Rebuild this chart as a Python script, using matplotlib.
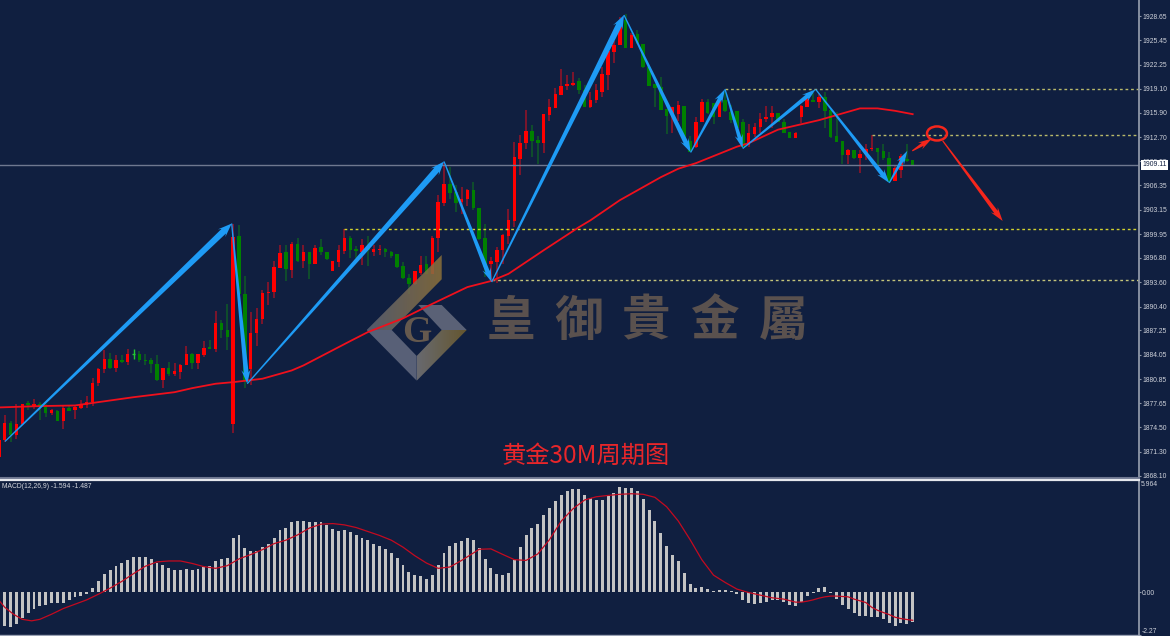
import numpy as np
import matplotlib
matplotlib.use('Agg')
import matplotlib.pyplot as plt
from matplotlib.patches import Polygon, Ellipse
from matplotlib.transforms import Affine2D, IdentityTransform
from matplotlib.colors import to_rgb

plt.rcParams['font.family'] = ['Liberation Sans', 'DejaVu Sans']

# candles, first one is cut by the left edge
bars = np.arange(-1, 156)
highs = [1872.9,
    1876.07,1875.32,1877.51,1877.6,1877.91,1878.22,1877.82,1877.6,1876.94,1876.81,
    1877.25,1877.38,1877.38,1878.04,1878.61,1880.99,1882.3,1884.72,1884.28,1884.06,
    1884.06,1884.76,1884.76,1884.54,1884.1,1883.66,1884.06,1882.3,1883.14,1883.01,
    1882.87,1885.2,1884.28,1884.1,1885.82,1886.04,1889.82,1888.59,1890.78,1901.24,
    1901.11,1894.38,1889.68,1890.25,1892.63,1893.64,1896.36,1898.47,1898.47,1898.91,
    1899.44,1898.47,1897.55,1898.47,1899.26,1897.55,1896.37,1898.47,1900.67,1899.75,
    1898.34,1899.26,1899.66,1898.47,1898.47,1898.12,1897.73,1897.38,1896.28,1894.74,
    1895.05,1897.03,1897.03,1899.66,1905.06,1909.24,1908.71,1906.38,1906.16,1905.94,
    1906.82,1903.44,1901.24,1896.94,1898.25,1900.01,1903.31,1912.09,1912.97,1916.26,
    1914.24,1912.84,1915.69,1917.67,1919.12,1921.67,1920.88,1921.32,1920.44,1919.56,
    1918.68,1919.69,1921.97,1924.04,1925.36,1928.56,1928.87,1926.37,1926.81,1924.96,
    1921.97,1919.69,1920.57,1916.39,1916.61,1917.45,1916.83,1912.84,1915.3,1917.67,
    1917.67,1917.14,1917.58,1918.9,1917.0,1916.2,1915.04,1914.42,1914.51,1915.91,
    1916.84,1916.79,1915.83,1915.04,1913.41,1913.41,1916.93,1918.02,1918.46,1918.55,
    1918.68,1916.49,1916.05,1912.22,1911.08,1910.99,1910.99,1911.74,1912.97,1911.21,
    1911.74,1910.78,1908.89,1910.47,1911.74,1909.68]
body_tops = [1872.8,
    1875.05,1875.05,1874.88,1877.6,1877.65,1877.56,1877.51,1877.25,1876.72,1876.59,
    1877.08,1877.08,1877.16,1877.51,1877.78,1880.33,1882.17,1883.45,1883.45,1883.31,
    1883.31,1884.19,1884.15,1884.19,1883.36,1883.31,1882.87,1882.26,1882.26,1881.86,
    1882.65,1884.1,1884.1,1884.1,1884.98,1885.03,1888.28,1888.28,1887.27,1899.57,
    1899.66,1892.1,1886.92,1888.72,1892.23,1892.32,1895.61,1897.42,1897.55,1898.69,
    1898.69,1897.55,1897.55,1898.12,1898.21,1897.55,1896.37,1897.82,1899.48,1899.48,
    1897.95,1898.47,1898.39,1897.95,1898.04,1898.04,1897.6,1897.29,1895.71,1894.21,
    1895.05,1895.93,1895.97,1899.48,1904.14,1906.51,1906.51,1905.5,1904.54,1905.77,
    1905.77,1903.44,1899.44,1896.37,1897.82,1899.88,1901.77,1910.03,1911.87,1913.5,
    1913.5,1912.31,1915.69,1916.66,1918.33,1919.43,1919.69,1919.78,1920.13,1918.9,
    1917.58,1918.9,1921.01,1924.04,1924.83,1927.68,1928.12,1926.15,1926.24,1924.96,
    1921.97,1919.69,1919.34,1916.39,1916.61,1916.92,1916.83,1912.18,1914.68,1917.32,
    1917.32,1917.14,1917.58,1917.58,1916.0,1916.09,1914.73,1913.19,1914.07,1915.12,
    1915.3,1915.83,1915.83,1914.73,1913.37,1913.19,1916.79,1917.72,1917.58,1918.02,
    1918.02,1916.27,1912.88,1912.22,1910.99,1910.99,1910.47,1911.13,1911.26,1911.21,
    1910.86,1909.98,1908.58,1910.2,1909.81,1909.68]
body_bottoms = [1870.6,
    1872.77,1873.43,1873.52,1874.88,1877.38,1877.25,1877.16,1876.37,1876.42,1875.36,
    1875.36,1876.68,1876.72,1877.08,1877.38,1877.78,1880.28,1882.13,1882.3,1882.3,
    1883.09,1883.09,1884.06,1883.36,1883.27,1882.87,1880.68,1880.77,1881.51,1881.56,
    1881.82,1882.65,1882.96,1882.96,1884.02,1884.81,1884.81,1887.27,1886.34,1874.88,
    1892.1,1880.68,1882.13,1886.87,1888.72,1892.14,1892.28,1895.53,1895.31,1895.26,
    1896.36,1896.37,1895.97,1895.97,1897.55,1896.63,1895.05,1896.32,1897.73,1897.82,
    1897.68,1897.6,1897.82,1897.6,1897.86,1897.6,1897.03,1895.62,1894.17,1893.42,
    1893.33,1894.87,1894.65,1894.65,1899.44,1904.01,1905.33,1904.01,1904.14,1904.54,
    1903.39,1899.26,1895.62,1896.01,1896.28,1897.82,1899.66,1901.68,1909.81,1911.87,
    1912.22,1911.87,1911.91,1915.6,1916.57,1918.28,1919.38,1919.56,1918.9,1916.66,
    1916.66,1917.54,1918.68,1920.92,1923.95,1924.83,1924.48,1924.48,1925.05,1921.89,
    1919.47,1919.16,1916.26,1915.47,1915.38,1915.78,1912.31,1910.77,1911.39,1914.64,
    1915.82,1915.3,1915.3,1916.18,1915.0,1913.85,1911.43,1911.65,1913.1,1914.07,
    1915.04,1915.3,1914.73,1913.28,1912.62,1912.62,1915.3,1916.66,1917.36,1917.36,
    1916.18,1912.75,1912.09,1910.34,1910.38,1909.98,1909.98,1910.47,1911.08,1910.78,
    1909.9,1906.82,1906.91,1908.36,1909.59,1908.97]
lows = [1869.5,
    1872.55,1872.55,1872.99,1874.75,1876.72,1876.9,1875.41,1875.85,1876.07,1875.32,
    1874.26,1876.64,1875.54,1876.94,1877.03,1877.34,1879.93,1881.64,1882.22,1881.78,
    1883.01,1882.65,1883.45,1883.09,1882.65,1881.69,1880.63,1879.67,1881.25,1881.25,
    1880.85,1882.65,1882.22,1882.22,1883.75,1884.76,1884.41,1886.26,1884.63,1873.74,
    1891.2,1879.67,1880.11,1885.2,1888.06,1890.56,1891.48,1895.48,1893.81,1894.16,
    1896.32,1895.44,1894.0,1895.97,1897.16,1896.59,1895.05,1895.62,1897.38,1896.85,
    1896.85,1895.84,1895.71,1897.11,1897.2,1896.94,1896.85,1895.53,1894.08,1892.1,
    1893.2,1894.52,1894.65,1894.65,1897.6,1903.66,1904.62,1902.87,1902.65,1903.66,
    1903.17,1899.22,1894.3,1894.08,1893.51,1896.06,1898.7,1900.89,1907.7,1911.08,
    1910.11,1909.15,1910.64,1914.81,1916.57,1918.24,1918.9,1919.43,1918.42,1916.61,
    1916.57,1917.19,1918.02,1918.9,1922.5,1924.83,1924.39,1924.43,1924.96,1921.75,
    1919.43,1916.7,1916.26,1913.1,1913.19,1914.81,1912.22,1910.73,1911.34,1914.64,
    1915.78,1914.42,1915.3,1916.04,1914.6,1913.8,1911.35,1911.43,1912.66,1913.28,
    1914.73,1913.85,1914.64,1913.19,1912.53,1912.58,1914.51,1916.62,1917.32,1916.49,
    1913.85,1912.62,1912.0,1909.15,1909.11,1909.77,1907.92,1909.68,1910.86,1909.02,
    1909.68,1906.82,1906.87,1907.39,1909.46,1908.93]
green_bars = [1,4,6,7,9,11,18,20,22,23,24,25,26,28,32,35,37,38,40,41,48,50,52,54,55,
    59,60,62,65,66,67,68,69,72,76,77,80,81,82,90,91,98,99,106,108,109,110,111,112,113,
    116,117,120,121,123,124,125,126,132,133,134,138,140,141,142,143,145,149,150,151,154,155]
doji_bars = [22]

# moving average read at some bars
ma_bars = [-1,6,12,16,22,29,32,36,39,44,49,51,59,62,68,73,79,83,86,92,98,100,105,112,115,118,
    125,127,132,139,146,149,152,155]
ma_values = [1877.12,1877.3,1877.38,1877.82,1878.47,1879.13,1879.66,1880.24,1880.45,1880.9,
    1881.99,1882.65,1885.86,1887.04,1888.85,1890.76,1892.97,1893.76,1894.71,1897.81,1900.84,
    1901.76,1904.4,1907.43,1908.55,1909.28,1911.45,1911.91,1913.69,1914.94,1916.49,1916.49,
    1916.17,1915.73]

# zigzag pivots and the red forecast arrows
zigzag_bars = [0.05,38.75,41.41,75.0,83.13,105.72,117.1,122.96,126.0,138.44,151.0,154.08]
zigzag_prices = [1872.64,1901.33,1880.24,1909.5,1893.63,1928.78,1910.69,1919.02,1911.21,1919.0,1906.68,1910.9]
forecast_bars = [(154.93,158.3),(160.13,170.36)]
forecast_prices = [(1910.9,1912.53),(1912.22,1901.67)]

# dotted levels: start bar, price
level_starts = [122.96,148.0,58.0,83.13]
level_prices = [1919.04,1913.0,1900.67,1893.95]
level_colors = ['#b9b96a','#b9b96a','#d2d22e','#c4c47a']
bid_line = 1909.05

price_ticks = [1928.65,1925.45,1922.25,1919.10,1915.90,1912.70,1909.55,1906.35,1903.15,1899.95,
    1896.80,1893.60,1890.40,1887.25,1884.05,1880.85,1877.65,1874.50,1871.30,1868.10]

# MACD histogram, bars 0 to 155
macd_hist = [-1.79,-1.83,-1.68,-1.35,-1.12,-0.89,-0.73,-0.66,-0.57,-0.60,-0.55,-0.41,-0.28,-0.23,-0.11,
    0.21,0.57,0.96,1.15,1.38,1.54,1.68,1.86,1.86,1.86,1.77,1.54,1.42,1.29,1.19,1.15,1.24,1.19,1.24,
    1.35,1.40,1.67,1.77,1.81,2.84,3.01,2.36,2.16,2.16,2.39,2.55,2.89,3.28,3.40,3.72,3.76,3.79,3.71,
    3.72,3.71,3.53,3.32,3.24,3.28,3.17,3.01,2.89,2.75,2.57,2.46,2.29,2.07,1.83,
    1.45,1.08,0.92,0.83,0.69,0.90,1.45,2.09,2.45,2.59,2.71,2.87,2.78,2.36,1.74,1.28,0.96,0.92,0.99,
    1.72,2.39,3.01,3.40,3.63,4.08,4.47,4.80,5.16,5.35,5.48,5.44,5.16,4.98,4.86,4.89,5.07,5.23,5.59,
    5.51,5.50,5.35,4.93,4.34,3.79,3.14,2.46,1.97,1.65,0.99,0.41,0.21,0.27,0.18,0.05,0.12,0.12,0.05,
    -0.09,-0.44,-0.60,-0.64,-0.60,-0.53,-0.43,-0.44,-0.51,-0.66,-0.71,-0.51,-0.23,-0.04,0.23,0.28,
    -0.05,-0.34,-0.66,-0.89,-1.12,-1.24,-1.28,-1.31,-1.31,-1.40,-1.65,-1.77,-1.65,-1.67,-1.59]
signal_bars = [-0.8,0,1.5,3,4.6,6,8,10,12,14,16,18,20,22,24,26,28,30,32,34,36,38,40,42,44,46,48,50,52,54,
    56,58,60,62,64,66,68,70,72,74,76,78,80,81,83,85,87,89,91,93,95,97,99,101,103,105,107,109,111,113,115,
    117,119,121,123,125,127,129,131,133,135,136,137,138,139,140,141,142,143,144,145,146,147,148,149,150,
    151,152,153,154,155]
signal_values = [-0.50,-0.80,-1.17,-1.44,-1.52,-1.44,-1.17,-0.87,-0.64,-0.41,-0.11,0.21,0.57,0.98,1.37,1.60,
    1.65,1.65,1.52,1.35,1.26,1.40,1.76,1.99,2.25,2.57,2.75,3.03,3.39,3.60,3.63,3.56,3.42,3.21,3.00,2.75,
    2.38,1.93,1.54,1.26,1.33,1.68,2.07,2.27,2.29,2.0,1.72,1.68,2.02,2.78,3.76,4.41,4.88,5.05,5.12,5.18,
    5.21,5.18,5.02,4.52,3.76,2.78,1.72,0.90,0.51,0.16,-0.02,-0.16,-0.30,-0.37,-0.53,-0.53,-0.48,-0.41,
    -0.32,-0.25,-0.21,-0.21,-0.23,-0.25,-0.37,-0.46,-0.55,-0.80,-0.96,-1.08,-1.19,-1.33,-1.40,-1.45,-1.49]
macd_ticks = [0.0,-2.27]
macd_tick_labels = ['0.00','-2.27']

W, H = 1170, 636
BG = '#101f40'
AXIS = '#8f97a8'
TICK_TXT = '#d0d3db'
TICK_SIZE = 4.9

fig = plt.figure(figsize=(W/100, H/100), dpi=100, facecolor=BG)
ax = fig.add_axes([0, (H-477.5)/H, 1138.5/W, 477.5/H], facecolor=BG)
ax2 = fig.add_axes([0, (H-635)/H, 1138.5/W, 155.5/H], facecolor=BG)

# figure pixels, y going down, for the watermark and the caption
px = Affine2D().scale(1, -1).translate(0, H)

def gradient_band(pts, c0, c1, alpha, z):
    xs = [p[0] for p in pts]
    ys = [p[1] for p in pts]
    t = np.linspace(0, 1, 64)[None, :, None]
    img = np.array(to_rgb(c0))[None, None, :]*(1-t) + np.array(to_rgb(c1))[None, None, :]*t
    img = np.dstack([img, np.full(img.shape[:2], alpha)])
    im = ax.imshow(img, extent=(min(xs), max(xs), max(ys), min(ys)), transform=px, aspect='auto', zorder=z)
    im.set_clip_path(Polygon(pts, transform=px))

# logo
gradient_band([(366.7,330),(441.7,255),(441.7,279.3),(391.7,330)], '#5d6272', '#8a6f3a', 0.88, 3)
gradient_band([(416.7,356),(441.7,330),(466.7,330),(416.7,380.7)], '#6e6e72', '#6a5a2e', 0.95, 1)
ax.add_patch(Polygon([(366.7,330),(391.7,330),(416.7,356),(416.7,380.7)], transform=px, color='#586077', lw=0, zorder=1))
ax.add_patch(Polygon([(418.3,305),(441.7,305),(466.7,330),(441.7,330)], transform=px, color='#5a6176', lw=0, zorder=1))
ax.text(416.7, 332, 'G', transform=px, family='Liberation Serif', weight='bold', fontsize=27, color='#65594e',
        ha='center', va='center', zorder=1)
for cx, ch in zip([510.5,579,646.5,714,783], '皇御貴金屬'):
    ax.text(cx, 321, ch, transform=px, family=['Noto Sans CJK TC', 'DejaVu Sans'], fontsize=35, weight='bold',
            color='#5a514e', ha='center', va='center', zorder=1)

# candles
for b, hi, top, bot, lo in zip(bars, highs, body_tops, body_bottoms, lows):
    if b in doji_bars:
        ax.vlines(b, lo, hi, color='#22c832', lw=1, zorder=2)
        ax.hlines((top+bot)/2, b-0.3, b+0.3, color='#22c832', lw=1, zorder=2)
        continue
    is_green = b in green_bars
    ax.vlines(b, lo, hi, color='#0f5a26' if is_green else '#9a1226', lw=1.1, zorder=2)
    ax.bar(b, top-bot, bottom=bot, width=0.6, color='#008000' if is_green else '#ff0000', lw=0, zorder=2.2)

ax.plot(ma_bars, ma_values, color='#f0101c', lw=1.3, zorder=4)
ax.axhline(bid_line, color='#6f7890', lw=1.0, zorder=2.5)
for start, price, col in zip(level_starts, level_prices, level_colors):
    ax.hlines(price, start, 193.6, color=col, lw=1, linestyles=(0, (2, 2)), zorder=2.5)

ax.set_xlim(-0.8, 193.55)
ax.set_ylim(1930.76 - 477.5*0.13165, 1930.76)
ax.set_yticks(price_ticks)
ax.set_yticklabels(['%.2f' % t for t in price_ticks])
ax.set_xticks([])
ax.yaxis.tick_right()
ax.tick_params(axis='y', length=1.5, width=0.8, color=AXIS, labelcolor=TICK_TXT, labelsize=TICK_SIZE, pad=1.5)
for s in ['top', 'left']:
    ax.spines[s].set_visible(False)
ax.spines['right'].set_color(AXIS)
ax.spines['right'].set_linewidth(1.3)
ax.spines['bottom'].set_color('#6d7690')
ax.spines['bottom'].set_linewidth(1.5)

def tapered_arrow(a, x0, y0, x1, y1, color, z=5):
    p0, p1 = a.transData.transform([(x0, y0), (x1, y1)])
    length = np.hypot(*(p1-p0))
    d = (p1-p0)/length
    n = np.array([-d[1], d[0]])
    head = 11
    neck = p1 - d*head
    barb = p1 - d*(head+3)
    w = min(3.4, 1.6 + length/200)
    pts = [p0+n*0.6, neck+n*w, barb+n*(w+2.2), p1, barb-n*(w+2.2), neck-n*w, p0-n*0.6]
    a.add_patch(Polygon(pts, closed=True, transform=IdentityTransform(), color=color, lw=0, zorder=z, clip_on=False))

for i in range(len(zigzag_bars)-1):
    tapered_arrow(ax, zigzag_bars[i], zigzag_prices[i], zigzag_bars[i+1], zigzag_prices[i+1], '#1e9bf5')
for fx, fy in zip(forecast_bars, forecast_prices):
    tapered_arrow(ax, fx[0], fy[0], fx[1], fy[1], '#f5261c')
ax.add_patch(Ellipse((159.15, 1913.19), 3.4, 1.85, fill=False, ec='#f5261c', lw=1.8, zorder=5))

# last price box over the axis
ax.text(1154.5, 165, '1909.11', transform=px, fontsize=TICK_SIZE, color='#101f40', ha='center', va='center', zorder=10,
        clip_on=False, bbox=dict(boxstyle='square,pad=0.25', fc='white', ec='none'))
ax.text(586, 456, '黄金30M周期图', transform=px, family=['Noto Sans CJK SC', 'DejaVu Sans'], fontsize=17.5,
        color='#e8262a', ha='center', va='center', zorder=6)

# MACD panel
macd_x = np.arange(len(macd_hist))
ax2.bar(macd_x, macd_hist, width=0.5, color='#c3c3c3', lw=0, zorder=2)
ax2.plot(signal_bars, signal_values, color='#c40a20', lw=0.9, zorder=3)
ax2.set_xlim(-0.8, 193.55)
ax2.set_ylim(-2.27, 5.964)
ax2.set_xticks([])
ax2.set_yticks(macd_ticks)
ax2.set_yticklabels(macd_tick_labels)
ax2.yaxis.tick_right()
ax2.tick_params(axis='y', length=1.5, width=0.8, color=AXIS, labelcolor=TICK_TXT, labelsize=TICK_SIZE, pad=0.5)
ax2.get_yticklabels()[1].set_va('bottom')
ax2.spines['left'].set_visible(False)
ax2.spines['top'].set_color('#e6e8ee')
ax2.spines['top'].set_linewidth(1.6)
ax2.spines['right'].set_color(AXIS)
ax2.spines['right'].set_linewidth(1.3)
ax2.spines['bottom'].set_color('#9aa2b4')
ax2.spines['bottom'].set_linewidth(1)
ax2.text(1141, 484.5, '5.964', transform=px, fontsize=TICK_SIZE, color=TICK_TXT, ha='left', va='center', clip_on=False)
ax2.text(2, 486, 'MACD(12,26,9) -1.594 -1.487', transform=px, fontsize=TICK_SIZE, color='#d4d6dc', ha='left', va='center')

fig.savefig('out.png', dpi=100, facecolor=BG)
